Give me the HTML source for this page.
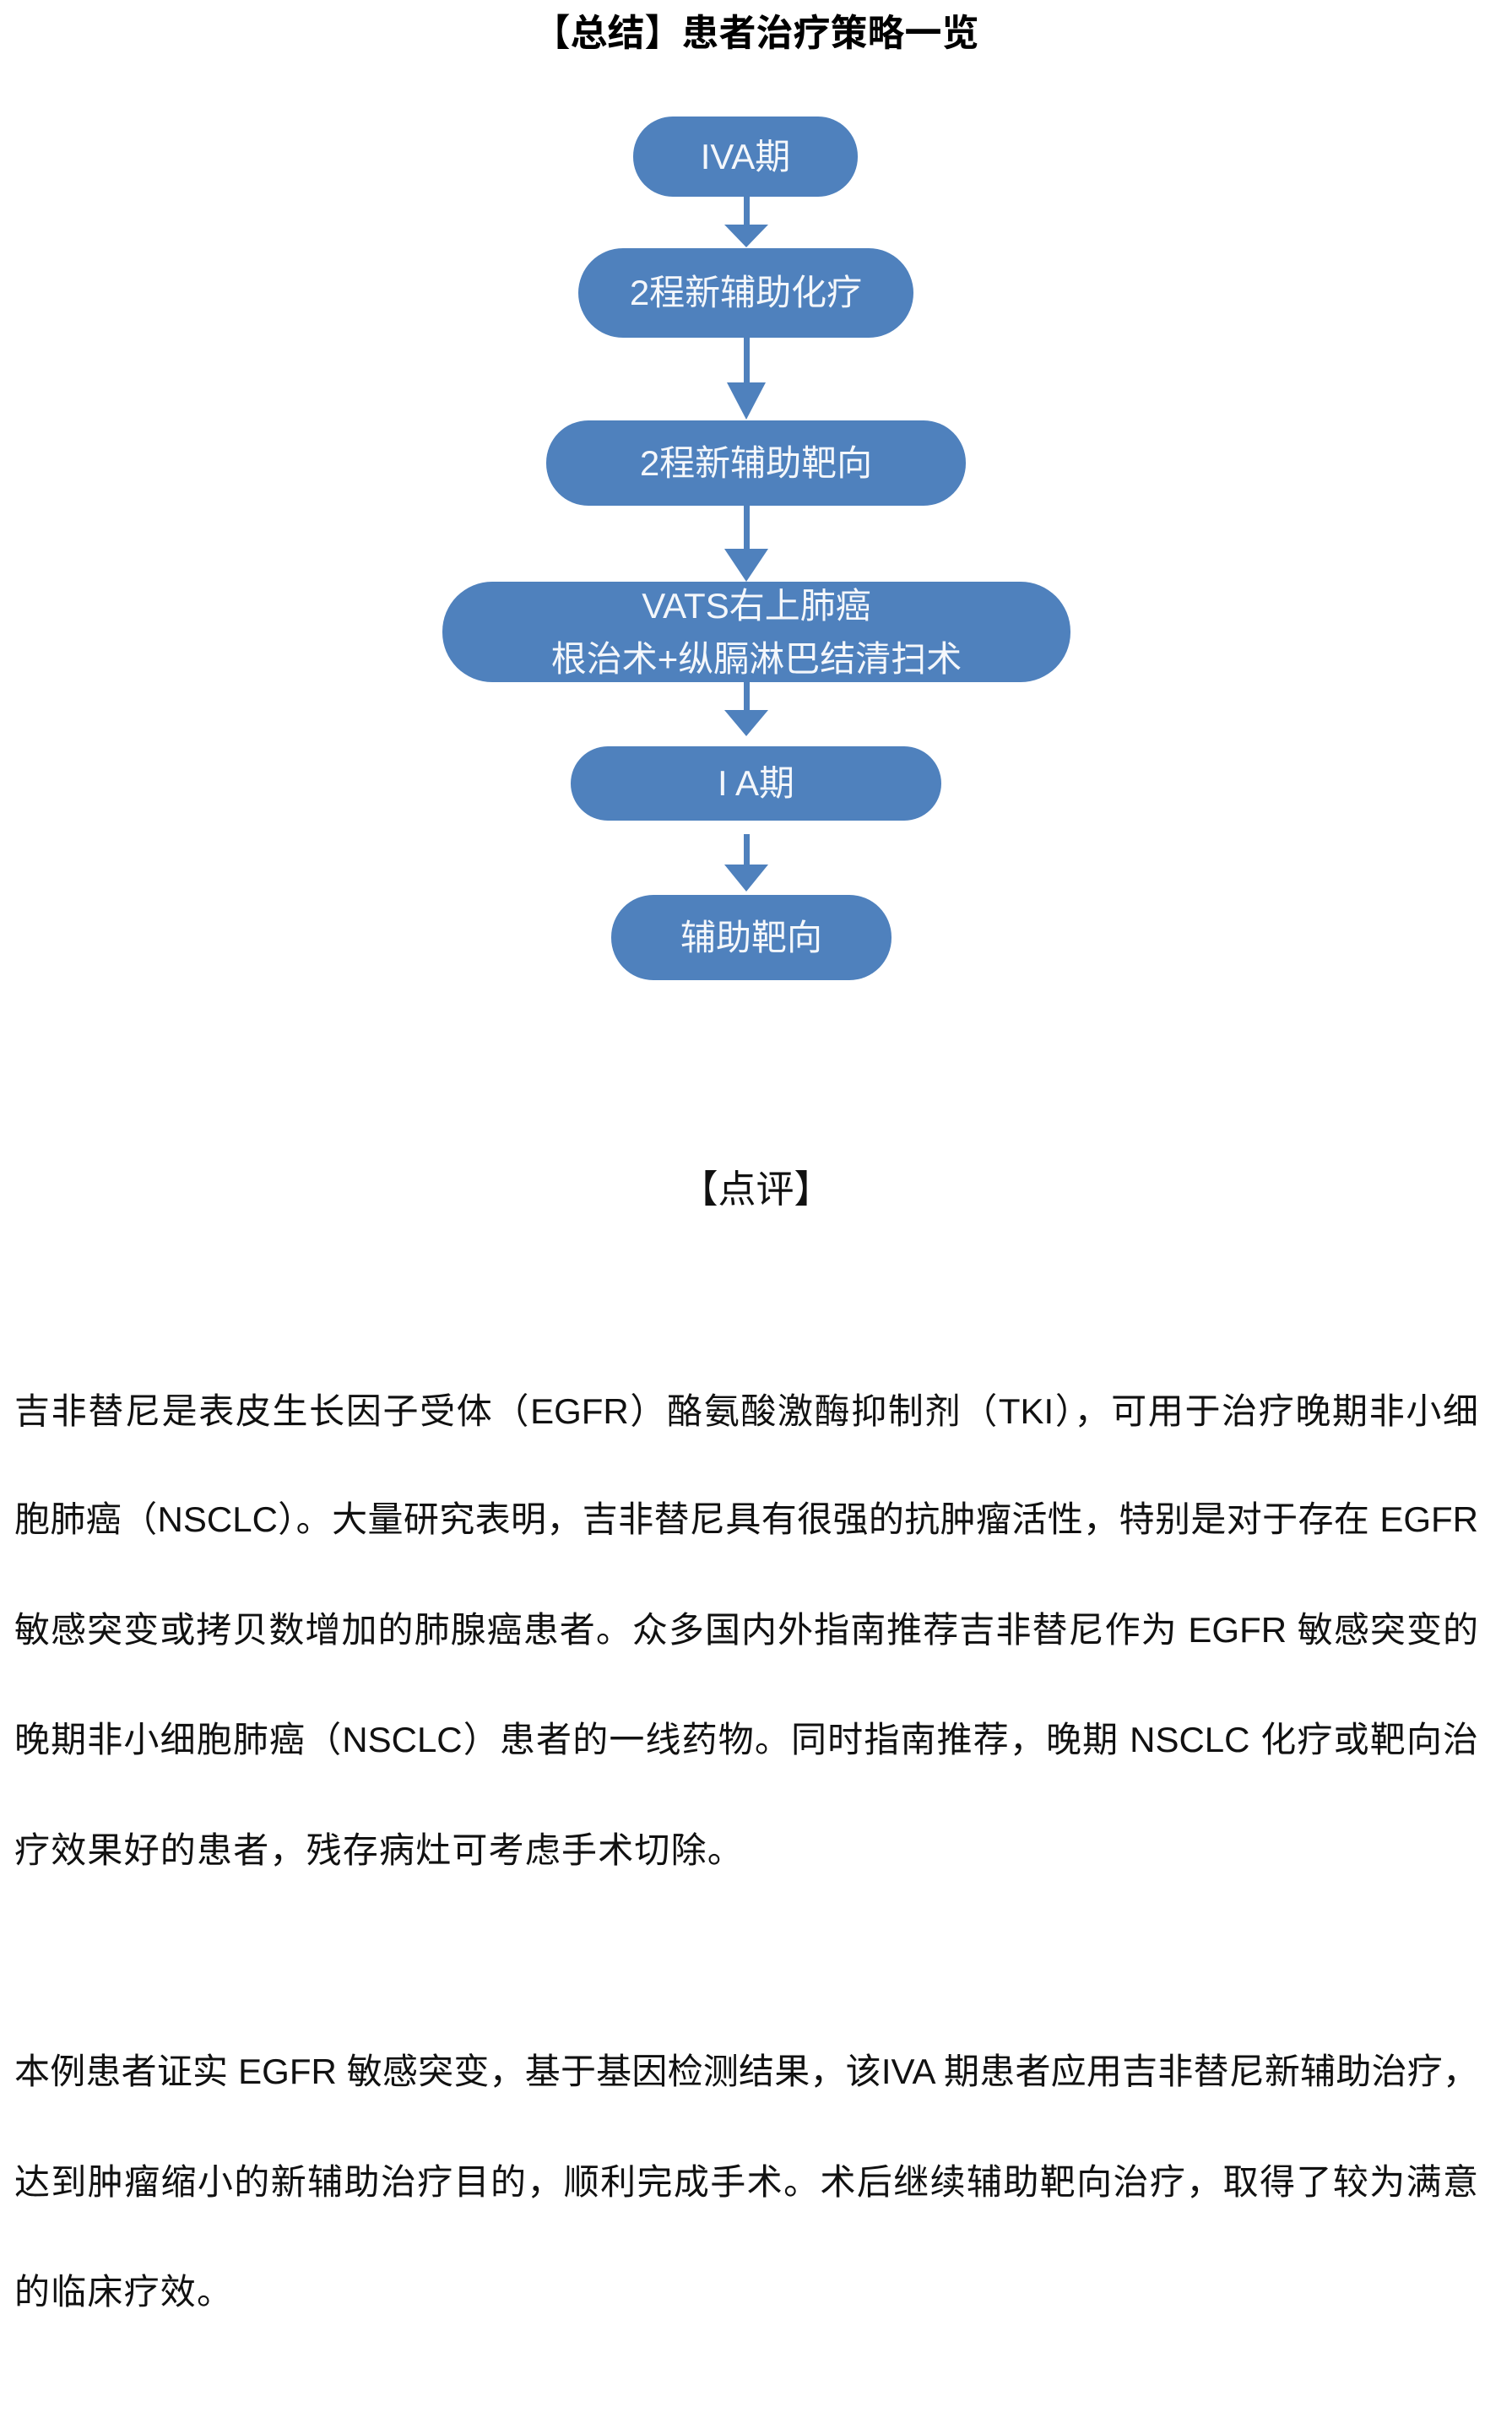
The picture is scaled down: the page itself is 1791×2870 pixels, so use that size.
<!DOCTYPE html>
<html><head><meta charset="utf-8"><style>
html,body{margin:0;padding:0;background:#fff;}
body{width:1791px;height:2870px;position:relative;overflow:hidden;font-family:"Liberation Sans","Noto Sans CJK SC",sans-serif;}
.t{position:absolute;white-space:nowrap;}
.box{position:absolute;background:#4f81bd;color:#f4f7fb;display:flex;align-items:center;justify-content:center;flex-direction:column;font-size:42px;line-height:62px;}
.ln{position:absolute;left:17px;width:1734px;height:60px;line-height:60px;font-size:42px;color:#111;white-space:nowrap;text-align:justify;text-align-last:justify;}
.ln.l{text-align-last:left;letter-spacing:1.2px;}
</style></head><body>
<div class="t" style="left:0;width:1791px;text-align:center;top:12px;font-size:44px;font-weight:bold;line-height:56px;">【总结】患者治疗策略一览</div>

<svg style="position:absolute;left:0;top:0" width="1791" height="1300">
<g fill="#4f81bd" stroke="none">
<rect x="881" y="233" width="7" height="36"/><polygon points="858,266 910,266 884,293"/>
<rect x="881" y="400" width="7" height="56"/><polygon points="861,453 907,453 884,497"/>
<rect x="881" y="599" width="7" height="54"/><polygon points="858,650 910,650 884,689"/>
<rect x="881" y="808" width="7" height="36"/><polygon points="858,841 910,841 884,872"/>
<rect x="881" y="988" width="7" height="39"/><polygon points="858,1024 910,1024 884,1056"/>
</g></svg>

<div class="box" style="left:750px;top:138px;width:266px;height:95px;border-radius:47px;">IVA期</div>
<div class="box" style="left:685px;top:294px;width:397px;height:106px;border-radius:53px;">2程新辅助化疗</div>
<div class="box" style="left:647px;top:498px;width:497px;height:101px;border-radius:50px;">2程新辅助靶向</div>
<div class="box" style="left:524px;top:689px;width:744px;height:119px;border-radius:59px;line-height:63px;"><div>VATS右上肺癌</div><div>根治术+纵膈淋巴结清扫术</div></div>
<div class="box" style="left:676px;top:884px;width:439px;height:88px;border-radius:44px;">I A期</div>
<div class="box" style="left:724px;top:1060px;width:332px;height:101px;border-radius:50px;">辅助靶向</div>

<div class="t" style="left:0;width:1791px;text-align:center;top:1381px;font-size:45px;line-height:56px;color:#111;">【点评】</div>

<div class="ln" style="top:1642px;">吉非替尼是表皮生长因子受体（EGFR）酪氨酸激酶抑制剂（TKI），可用于治疗晚期非小细</div>
<div class="ln" style="top:1770px;">胞肺癌（NSCLC）。大量研究表明，吉非替尼具有很强的抗肿瘤活性，特别是对于存在 EGFR</div>
<div class="ln" style="top:1901px;">敏感突变或拷贝数增加的肺腺癌患者。众多国内外指南推荐吉非替尼作为 EGFR 敏感突变的</div>
<div class="ln" style="top:2031px;">晚期非小细胞肺癌（NSCLC）患者的一线药物。同时指南推荐，晚期 NSCLC 化疗或靶向治</div>
<div class="ln l" style="top:2162px;">疗效果好的患者，残存病灶可考虑手术切除。</div>

<div class="ln" style="top:2424px;">本例患者证实 EGFR 敏感突变，基于基因检测结果，该IVA 期患者应用吉非替尼新辅助治疗，</div>
<div class="ln" style="top:2555px;">达到肿瘤缩小的新辅助治疗目的，顺利完成手术。术后继续辅助靶向治疗，取得了较为满意</div>
<div class="ln l" style="top:2685px;">的临床疗效。</div>
</body></html>
